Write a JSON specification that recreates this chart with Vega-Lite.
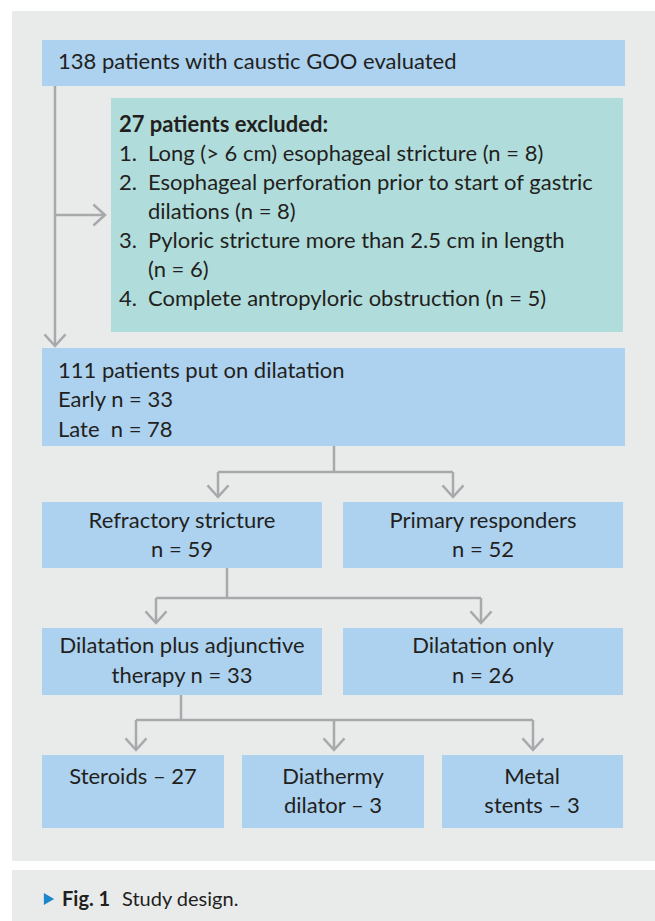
{
  "$schema": "https://vega.github.io/schema/vega-lite/v6.json",
  "width": 655,
  "height": 921,
  "autosize": {"type": "fit", "contains": "padding"},
  "padding": 0,
  "background": "white",
  "config": {"view": {"stroke": null}},
  "datasets": {
    "rects": [
      {"id": "panel", "kind": "panel", "x": 12, "x2": 655, "y": 11, "y2": 861},
      {"id": "caption", "kind": "panel", "x": 12, "x2": 655, "y": 870, "y2": 921},
      {"id": "top", "kind": "box", "x": 42, "x2": 625, "y": 40, "y2": 86},
      {"id": "excl", "kind": "excl", "x": 111, "x2": 623, "y": 98, "y2": 332},
      {"id": "dil", "kind": "box", "x": 42, "x2": 625, "y": 348, "y2": 446},
      {"id": "refr", "kind": "box", "x": 42, "x2": 322, "y": 502, "y2": 568},
      {"id": "prim", "kind": "box", "x": 343, "x2": 623, "y": 502, "y2": 568},
      {"id": "adj", "kind": "box", "x": 42, "x2": 322, "y": 628, "y2": 695},
      {"id": "only", "kind": "box", "x": 343, "x2": 623, "y": 628, "y2": 695},
      {"id": "ster", "kind": "box", "x": 42, "x2": 224, "y": 755, "y2": 828},
      {"id": "diat", "kind": "box", "x": 242, "x2": 424, "y": 755, "y2": 828},
      {"id": "metal", "kind": "box", "x": 442, "x2": 623, "y": 755, "y2": 828}
    ],
    "links": [
      {"x": 55, "y": 86, "x2": 55, "y2": 346},
      {"x": 55, "y": 215, "x2": 104, "y2": 215},
      {"x": 334, "y": 446, "x2": 334, "y2": 472},
      {"x": 218, "y": 472, "x2": 453, "y2": 472},
      {"x": 218, "y": 472, "x2": 218, "y2": 497},
      {"x": 453, "y": 472, "x2": 453, "y2": 497},
      {"x": 227, "y": 568, "x2": 227, "y2": 598},
      {"x": 156, "y": 598, "x2": 481, "y2": 598},
      {"x": 156, "y": 598, "x2": 156, "y2": 622},
      {"x": 481, "y": 598, "x2": 481, "y2": 622},
      {"x": 181, "y": 695, "x2": 181, "y2": 720},
      {"x": 136, "y": 720, "x2": 533, "y2": 720},
      {"x": 136, "y": 720, "x2": 136, "y2": 749},
      {"x": 334, "y": 720, "x2": 334, "y2": 749},
      {"x": 533, "y": 720, "x2": 533, "y2": 749}
    ],
    "arrows": [
      {"x": 55, "y": 346, "dir": "down"},
      {"x": 105, "y": 215, "dir": "right"},
      {"x": 218, "y": 497, "dir": "down"},
      {"x": 453, "y": 497, "dir": "down"},
      {"x": 156, "y": 623, "dir": "down"},
      {"x": 481, "y": 623, "dir": "down"},
      {"x": 136, "y": 750, "dir": "down"},
      {"x": 334, "y": 750, "dir": "down"},
      {"x": 533, "y": 750, "dir": "down"}
    ],
    "labels": [
      {"text": "138 patients with caustic GOO evaluated", "x": 58, "y": 69, "role": "left"},
      {"text": "27 patients excluded:", "x": 119, "y": 132, "role": "bold"},
      {"text": "1.", "x": 119, "y": 161, "role": "left"},
      {"text": "Long (> 6 cm) esophageal stricture (n = 8)", "x": 148, "y": 161, "role": "left"},
      {"text": "2.", "x": 119, "y": 190, "role": "left"},
      {"text": "Esophageal perforation prior to start of gastric", "x": 148, "y": 190, "role": "left"},
      {"text": "dilations (n = 8)", "x": 148, "y": 219, "role": "left"},
      {"text": "3.", "x": 119, "y": 248, "role": "left"},
      {"text": "Pyloric stricture more than 2.5 cm in length", "x": 148, "y": 248, "role": "left"},
      {"text": "(n = 6)", "x": 148, "y": 277, "role": "left"},
      {"text": "4.", "x": 119, "y": 306, "role": "left"},
      {"text": "Complete antropyloric obstruction (n = 5)", "x": 148, "y": 306, "role": "left"},
      {"text": "111 patients put on dilatation", "x": 58, "y": 378, "role": "left"},
      {"text": "Early n = 33", "x": 58, "y": 407, "role": "left"},
      {"text": "Late\u00a0 n = 78", "x": 58, "y": 437, "role": "left"},
      {"text": "Refractory stricture", "x": 182, "y": 528, "role": "center"},
      {"text": "n = 59", "x": 182, "y": 557, "role": "center"},
      {"text": "Primary responders", "x": 483, "y": 528, "role": "center"},
      {"text": "n = 52", "x": 483, "y": 557, "role": "center"},
      {"text": "Dilatation plus adjunctive", "x": 182, "y": 653, "role": "center"},
      {"text": "therapy n = 33", "x": 182, "y": 683, "role": "center"},
      {"text": "Dilatation only", "x": 483, "y": 653, "role": "center"},
      {"text": "n = 26", "x": 483, "y": 683, "role": "center"},
      {"text": "Steroids – 27", "x": 133, "y": 784, "role": "center"},
      {"text": "Diathermy", "x": 333, "y": 784, "role": "center"},
      {"text": "dilator – 3", "x": 333, "y": 813, "role": "center"},
      {"text": "Metal", "x": 532, "y": 784, "role": "center"},
      {"text": "stents – 3", "x": 532, "y": 813, "role": "center"},
      {"text": "Fig. 1", "x": 62, "y": 906, "role": "capbold"},
      {"text": "Study design.", "x": 122, "y": 906, "role": "cap"}
    ],
    "marker": [{"x": 49, "y": 899}]
  },
  "encoding": {
    "x": {"type": "quantitative", "scale": {"domain": [0, 655], "nice": false, "zero": false}, "axis": null},
    "y": {"type": "quantitative", "scale": {"domain": [0, 921], "nice": false, "zero": false, "reverse": true}, "axis": null}
  },
  "layer": [
    {
      "data": {"name": "rects"},
      "mark": {"type": "rect", "strokeWidth": 0},
      "encoding": {
        "x": {"field": "x", "type": "quantitative"},
        "x2": {"field": "x2"},
        "y": {"field": "y", "type": "quantitative"},
        "y2": {"field": "y2"},
        "color": {"field": "kind", "type": "nominal", "scale": {"domain": ["panel", "box", "excl"], "range": ["#e9ebeb", "#acd2ef", "#b0dddb"]}, "legend": null}
      }
    },
    {
      "data": {"name": "links"},
      "mark": {"type": "rule", "color": "#a7a9ab", "strokeWidth": 2.5},
      "encoding": {
        "x": {"field": "x", "type": "quantitative"},
        "x2": {"field": "x2"},
        "y": {"field": "y", "type": "quantitative"},
        "y2": {"field": "y2"}
      }
    },
    {
      "data": {"name": "arrows"},
      "transform": [{"filter": "datum.dir === 'down'"}],
      "mark": {"type": "point", "shape": "M-0.9,-1L0,0L0.9,-1", "filled": false, "stroke": "#a7a9ab", "strokeWidth": 2.5, "opacity": 1, "size": 544},
      "encoding": {
        "x": {"field": "x", "type": "quantitative"},
        "y": {"field": "y", "type": "quantitative"}
      }
    },
    {
      "data": {"name": "arrows"},
      "transform": [{"filter": "datum.dir === 'right'"}],
      "mark": {"type": "point", "shape": "M-1,-0.9L0,0L-1,0.9", "filled": false, "stroke": "#a7a9ab", "strokeWidth": 2.5, "opacity": 1, "size": 544},
      "encoding": {
        "x": {"field": "x", "type": "quantitative"},
        "y": {"field": "y", "type": "quantitative"}
      }
    },
    {
      "data": {"name": "labels"},
      "transform": [{"filter": "datum.role === 'left'"}],
      "mark": {"type": "text", "align": "left", "baseline": "alphabetic", "font": "Lato", "fontSize": 22, "color": "#231f20"},
      "encoding": {
        "x": {"field": "x", "type": "quantitative"},
        "y": {"field": "y", "type": "quantitative"},
        "text": {"field": "text"}
      }
    },
    {
      "data": {"name": "labels"},
      "transform": [{"filter": "datum.role === 'bold'"}],
      "mark": {"type": "text", "align": "left", "baseline": "alphabetic", "font": "Lato", "fontSize": 22, "fontWeight": "bold", "color": "#231f20"},
      "encoding": {
        "x": {"field": "x", "type": "quantitative"},
        "y": {"field": "y", "type": "quantitative"},
        "text": {"field": "text"}
      }
    },
    {
      "data": {"name": "labels"},
      "transform": [{"filter": "datum.role === 'center'"}],
      "mark": {"type": "text", "align": "center", "baseline": "alphabetic", "font": "Lato", "fontSize": 22, "color": "#231f20"},
      "encoding": {
        "x": {"field": "x", "type": "quantitative"},
        "y": {"field": "y", "type": "quantitative"},
        "text": {"field": "text"}
      }
    },
    {
      "data": {"name": "labels"},
      "transform": [{"filter": "datum.role === 'capbold'"}],
      "mark": {"type": "text", "align": "left", "baseline": "alphabetic", "font": "Lato", "fontSize": 20, "fontWeight": "bold", "color": "#231f20"},
      "encoding": {
        "x": {"field": "x", "type": "quantitative"},
        "y": {"field": "y", "type": "quantitative"},
        "text": {"field": "text"}
      }
    },
    {
      "data": {"name": "labels"},
      "transform": [{"filter": "datum.role === 'cap'"}],
      "mark": {"type": "text", "align": "left", "baseline": "alphabetic", "font": "Lato", "fontSize": 20, "color": "#231f20"},
      "encoding": {
        "x": {"field": "x", "type": "quantitative"},
        "y": {"field": "y", "type": "quantitative"},
        "text": {"field": "text"}
      }
    },
    {
      "data": {"name": "marker"},
      "mark": {"type": "point", "shape": "triangle-right", "filled": true, "color": "#1b87c9", "opacity": 1, "size": 140},
      "encoding": {
        "x": {"field": "x", "type": "quantitative"},
        "y": {"field": "y", "type": "quantitative"}
      }
    }
  ]
}
